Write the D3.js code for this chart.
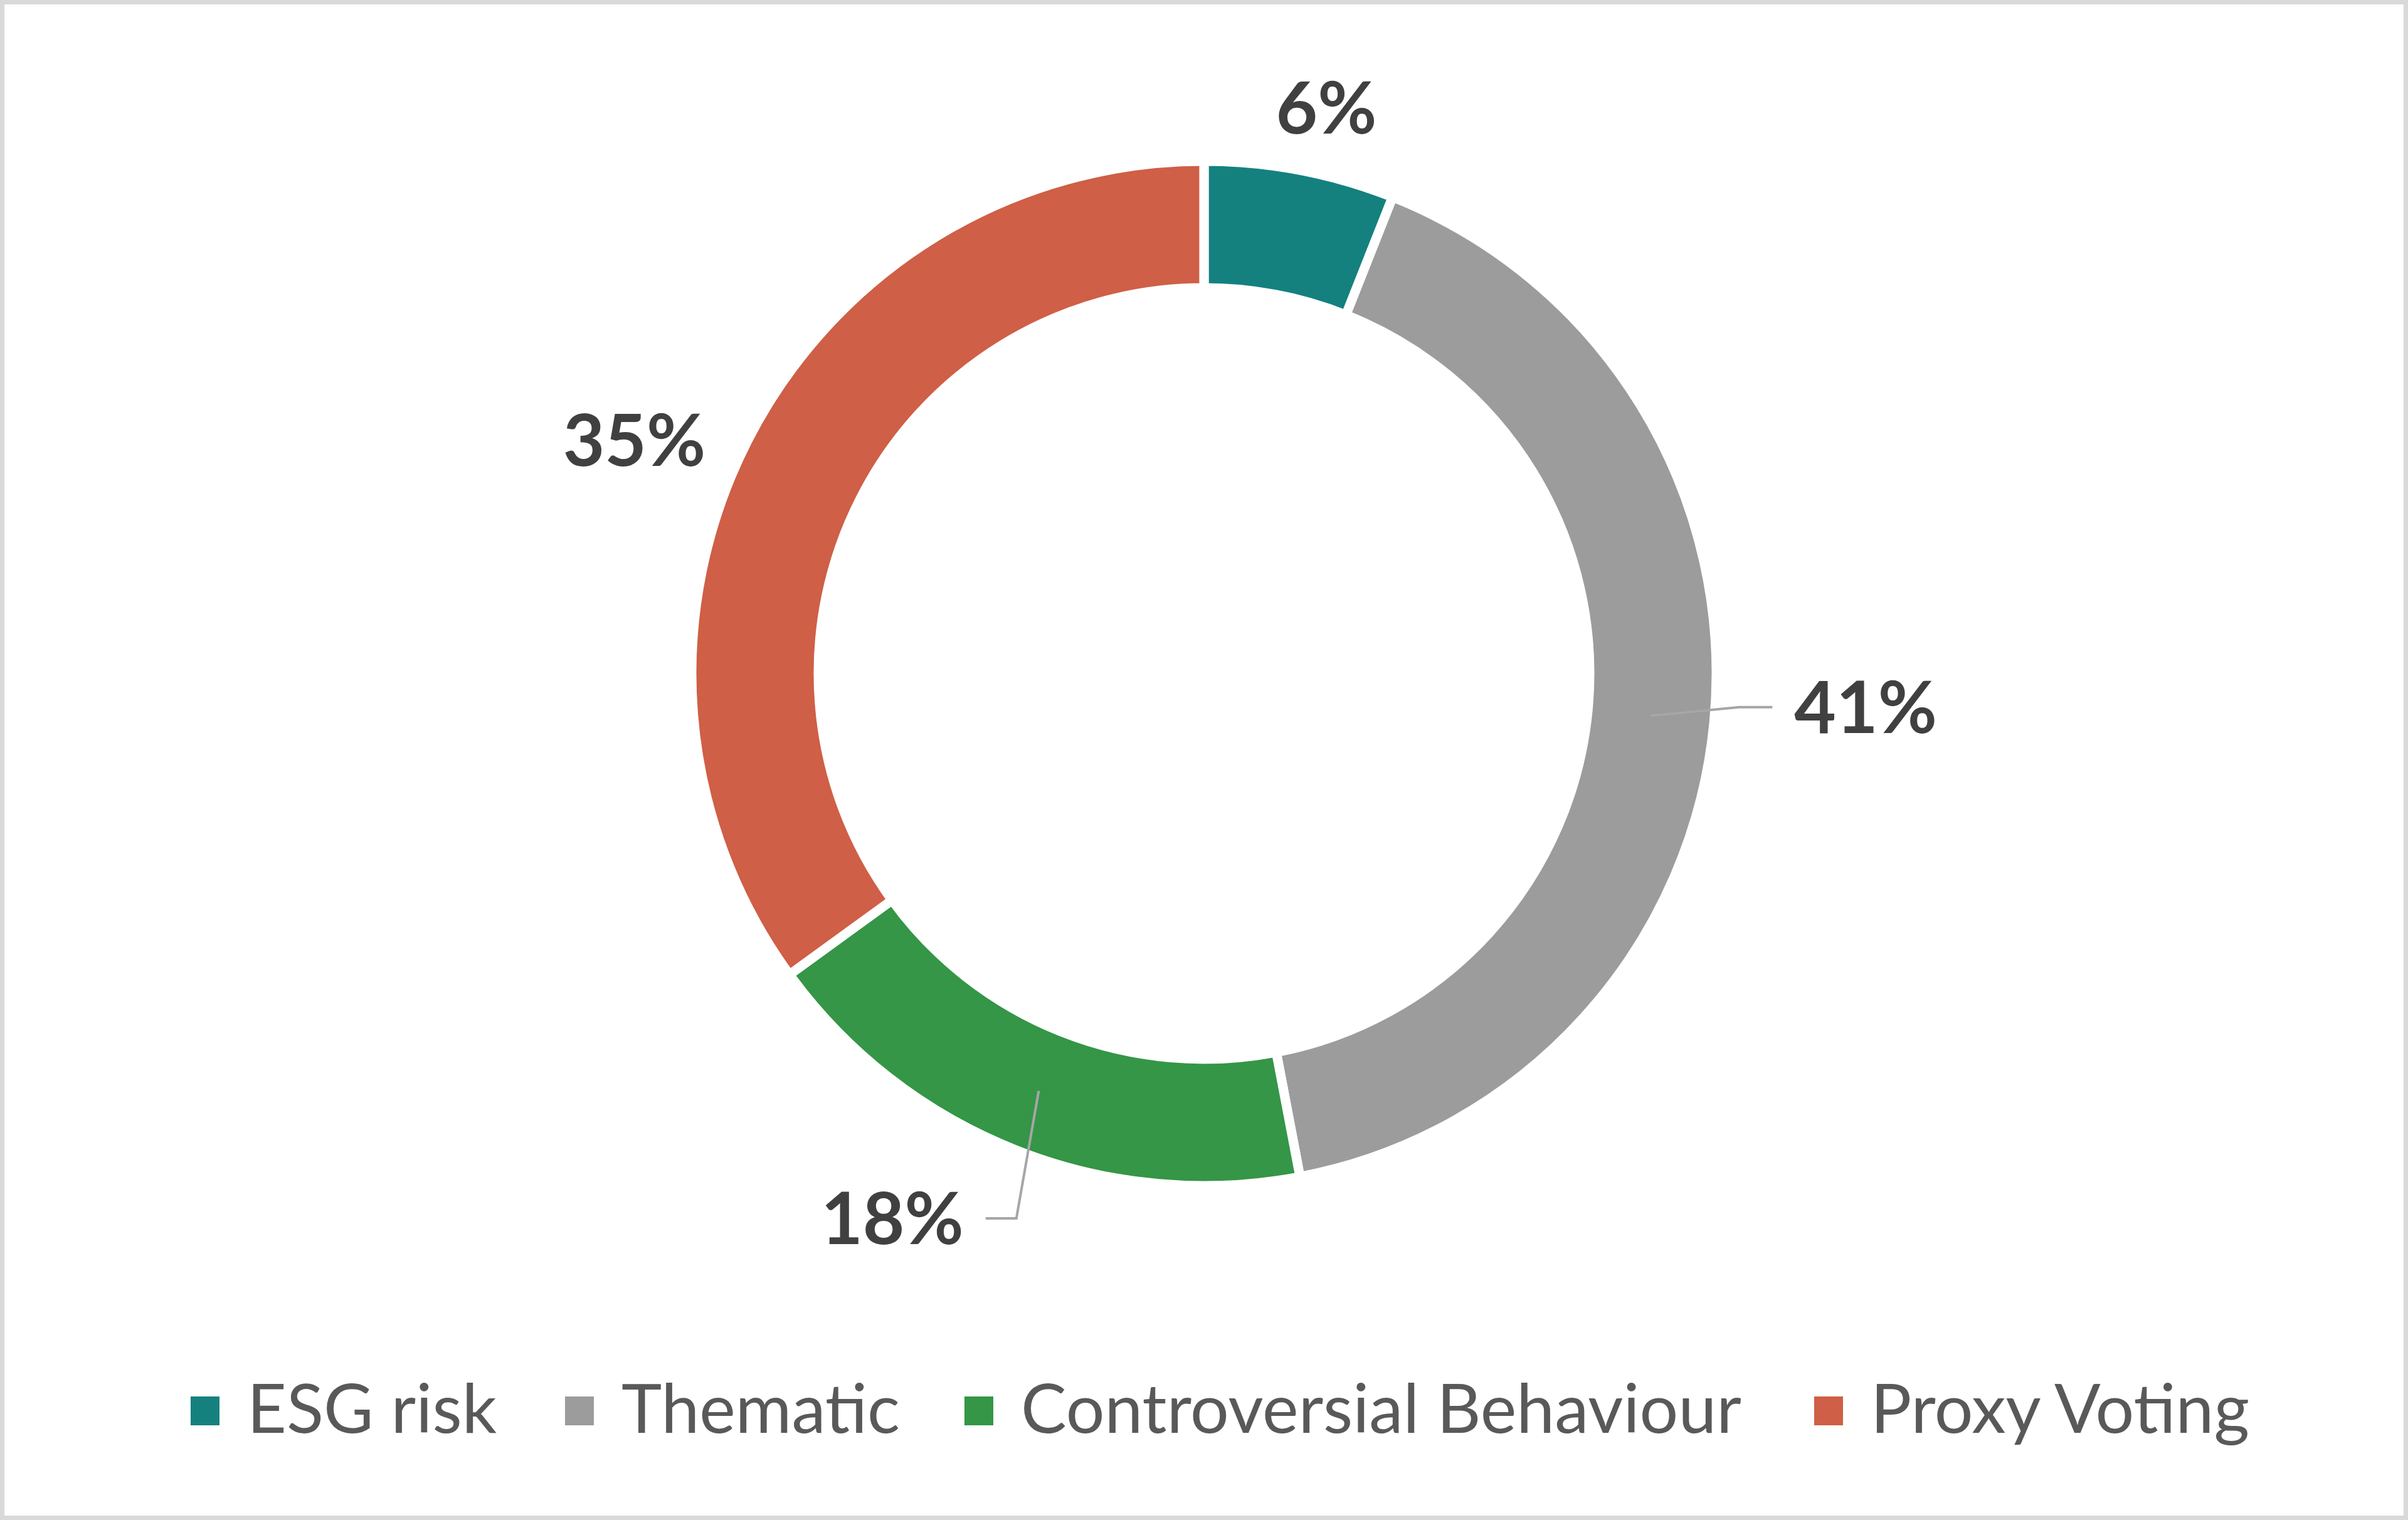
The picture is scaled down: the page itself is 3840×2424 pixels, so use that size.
<!DOCTYPE html>
<html>
<head>
<meta charset="utf-8">
<script src="https://cdn.jsdelivr.net/npm/d3@7"></script>
<style>
  html, body { margin: 0; padding: 0; background: #ffffff; }
  svg { display: block; }
</style>
</head>
<body>
<svg id="chart" width="3840" height="2424"></svg>
<script>
// ---- data ----
const categories = ["ESG risk", "Thematic", "Controversial Behaviour", "Proxy Voting"];
const values = [6, 41, 18, 35];
const labels = ["6%", "41%", "18%", "35%"];
const colors = ["#14817f", "#9c9c9c", "#349646", "#cf5f46"];

// ---- layout ----
const W = 3840, H = 2424;
const cx = 1920, cy = 1074;
const outerR = 817, innerR = 615;
const midR = (outerR + innerR) / 2;
const rad = Math.PI / 180;

const svg = d3.select("#chart");

svg.append("rect")
  .attr("x", 3.5).attr("y", 3.5)
  .attr("width", W - 7).attr("height", H - 7)
  .attr("fill", "#ffffff")
  .attr("stroke", "#d9d9d9")
  .attr("stroke-width", 7);

const pie = d3.pie().sort(null).value(d => d);
const arcs = pie(values);
const arc = d3.arc().innerRadius(innerR).outerRadius(outerR);

const g = svg.append("g").attr("transform", `translate(${cx},${cy})`);

g.selectAll("path.slice")
  .data(arcs)
  .join("path")
  .attr("class", "slice")
  .attr("d", arc)
  .attr("fill", (d, i) => colors[i])
  .attr("stroke", "#ffffff")
  .attr("stroke-width", 15)
  .attr("stroke-linejoin", "miter");

function polar(r, angDeg) {
  const a = angDeg * rad;
  return [r * Math.sin(a), -r * Math.cos(a)];
}
const midAngle = d => ((d.startAngle + d.endAngle) / 2) / rad;

// label placement config (layout only)
const labelLayout = [
  { type: "free", r: 923, dA: 1.4 },
  { type: "leader", r: 855, dA: -1.8, len: 53, side: 1 },
  { type: "leader", r: 919, dA: -2.6, len: 49, side: -1 },
  { type: "free", r: 982, dA: -4.7 }
];

const labelFont = "Lato, 'Open Sans', 'DejaVu Sans', sans-serif";

arcs.forEach((d, i) => {
  const L = labelLayout[i];
  const ang = midAngle(d);
  if (L.type === "free") {
    const p = polar(L.r, ang + L.dA);
    g.append("text")
      .attr("x", p[0]).attr("y", p[1])
      .attr("dy", "0.36em")
      .attr("text-anchor", "middle")
      .attr("font-family", labelFont)
      .attr("font-weight", 700)
      .attr("font-size", 115)
      .attr("fill", "#404040")
      .text(labels[i]);
  } else {
    const p0 = polar(midR, ang);
    const p1 = polar(L.r, ang + L.dA);
    const p2 = [p1[0] + L.side * L.len, p1[1]];
    g.append("path")
      .attr("d", d3.line()([p0, p1, p2]))
      .attr("fill", "none")
      .attr("stroke", "#a6a6a6")
      .attr("stroke-width", 4);
    g.append("text")
      .attr("x", p2[0] + L.side * 35).attr("y", p2[1])
      .attr("dy", "0.36em")
      .attr("text-anchor", L.side > 0 ? "start" : "end")
      .attr("font-family", labelFont)
      .attr("font-weight", 700)
      .attr("font-size", 115)
      .attr("fill", "#404040")
      .text(labels[i]);
  }
});

// ---- legend ----
const legendY = 2250;
const legendX = [304, 901, 1538, 2893];   // item start positions (layout)
const sq = 46, sqGap = 44;
const legend = svg.append("g");
const items = legend.selectAll("g.item")
  .data(categories)
  .join("g")
  .attr("class", "item")
  .attr("transform", (d, i) => `translate(${legendX[i]},0)`);
items.append("rect")
  .attr("width", sq).attr("height", sq)
  .attr("y", legendY - sq / 2)
  .attr("fill", (d, i) => colors[i]);
items.append("text")
  .attr("x", sq + sqGap)
  .attr("y", legendY - 4)
  .attr("dy", "0.36em")
  .attr("font-family", labelFont)
  .attr("font-size", 109)
  .attr("fill", "#595959")
  .text(d => d);
</script>
</body>
</html>
